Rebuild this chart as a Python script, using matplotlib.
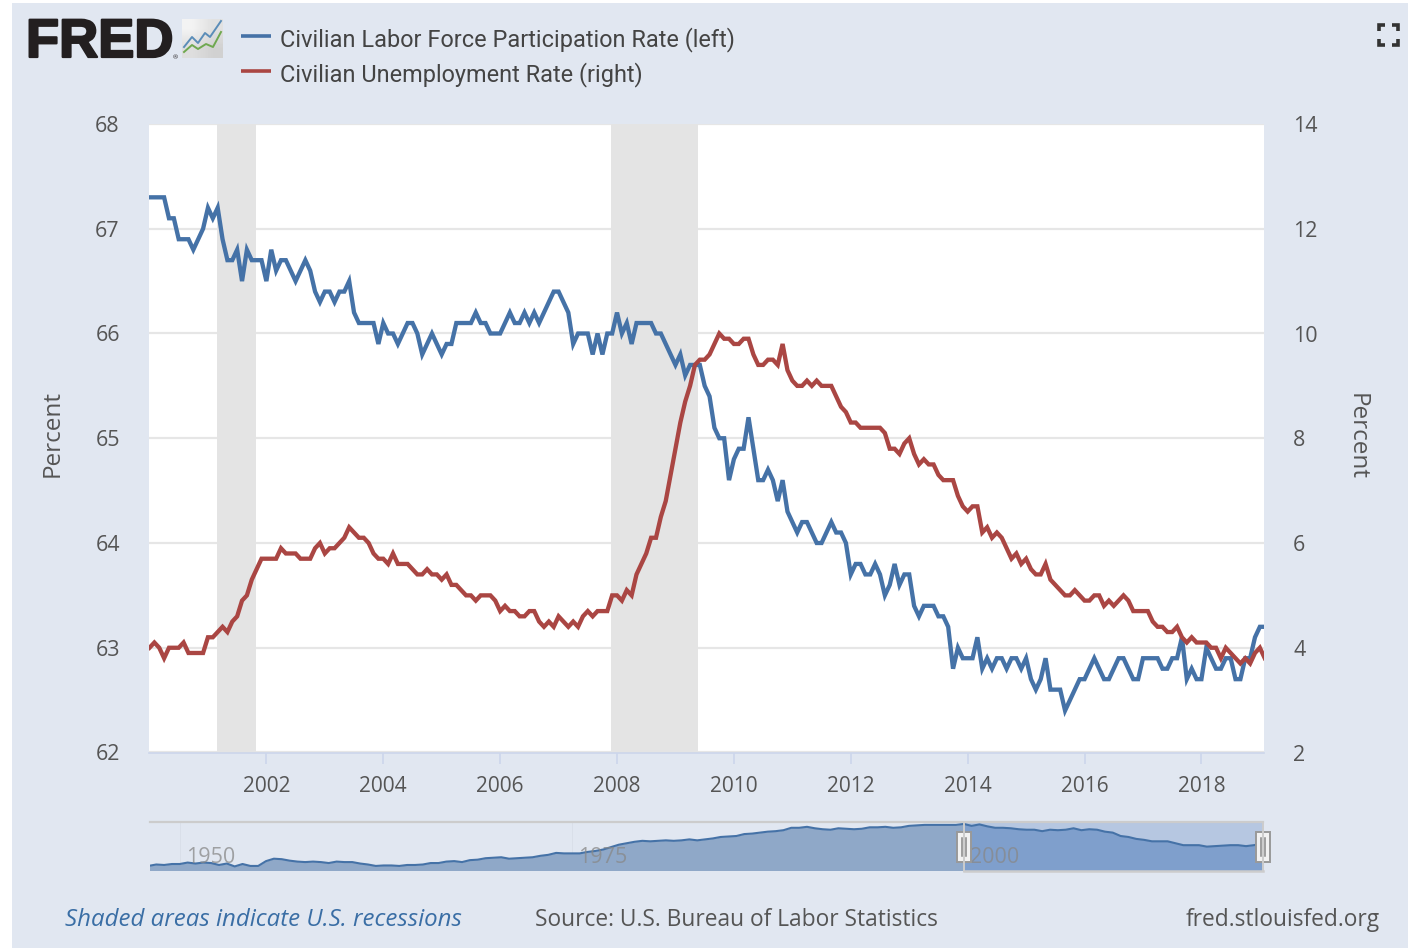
import numpy as np
from matplotlib import pyplot as plt
from matplotlib import patheffects
from matplotlib.patches import Rectangle

W, H = 1408, 950

# monthly values Jan 2000 - Feb 2019
lfpr = [67.3, 67.3, 67.3, 67.3, 67.1, 67.1, 66.9, 66.9, 66.9, 66.8, 66.9, 67.0,
        67.2, 67.1, 67.2, 66.9, 66.7, 66.7, 66.8, 66.5, 66.8, 66.7, 66.7, 66.7,
        66.5, 66.8, 66.6, 66.7, 66.7, 66.6, 66.5, 66.6, 66.7, 66.6, 66.4, 66.3,
        66.4, 66.4, 66.3, 66.4, 66.4, 66.5, 66.2, 66.1, 66.1, 66.1, 66.1, 65.9,
        66.1, 66.0, 66.0, 65.9, 66.0, 66.1, 66.1, 66.0, 65.8, 65.9, 66.0, 65.9,
        65.8, 65.9, 65.9, 66.1, 66.1, 66.1, 66.1, 66.2, 66.1, 66.1, 66.0, 66.0,
        66.0, 66.1, 66.2, 66.1, 66.1, 66.2, 66.1, 66.2, 66.1, 66.2, 66.3, 66.4,
        66.4, 66.3, 66.2, 65.9, 66.0, 66.0, 66.0, 65.8, 66.0, 65.8, 66.0, 66.0,
        66.2, 66.0, 66.1, 65.9, 66.1, 66.1, 66.1, 66.1, 66.0, 66.0, 65.9, 65.8,
        65.7, 65.8, 65.6, 65.7, 65.7, 65.7, 65.5, 65.4, 65.1, 65.0, 65.0, 64.6,
        64.8, 64.9, 64.9, 65.2, 64.9, 64.6, 64.6, 64.7, 64.6, 64.4, 64.6, 64.3,
        64.2, 64.1, 64.2, 64.2, 64.1, 64.0, 64.0, 64.1, 64.2, 64.1, 64.1, 64.0,
        63.7, 63.8, 63.8, 63.7, 63.7, 63.8, 63.7, 63.5, 63.6, 63.8, 63.6, 63.7,
        63.7, 63.4, 63.3, 63.4, 63.4, 63.4, 63.3, 63.3, 63.2, 62.8, 63.0, 62.9,
        62.9, 62.9, 63.1, 62.8, 62.9, 62.8, 62.9, 62.9, 62.8, 62.9, 62.9, 62.8,
        62.9, 62.7, 62.6, 62.7, 62.9, 62.6, 62.6, 62.6, 62.4, 62.5, 62.6, 62.7,
        62.7, 62.8, 62.9, 62.8, 62.7, 62.7, 62.8, 62.9, 62.9, 62.8, 62.7, 62.7,
        62.9, 62.9, 62.9, 62.9, 62.8, 62.8, 62.9, 62.9, 63.1, 62.7, 62.8, 62.7,
        62.7, 63.0, 62.9, 62.8, 62.8, 62.9, 62.9, 62.7, 62.7, 62.9, 62.9, 63.1,
        63.2, 63.2]

unrate = [4.0, 4.1, 4.0, 3.8, 4.0, 4.0, 4.0, 4.1, 3.9, 3.9, 3.9, 3.9,
          4.2, 4.2, 4.3, 4.4, 4.3, 4.5, 4.6, 4.9, 5.0, 5.3, 5.5, 5.7,
          5.7, 5.7, 5.7, 5.9, 5.8, 5.8, 5.8, 5.7, 5.7, 5.7, 5.9, 6.0,
          5.8, 5.9, 5.9, 6.0, 6.1, 6.3, 6.2, 6.1, 6.1, 6.0, 5.8, 5.7,
          5.7, 5.6, 5.8, 5.6, 5.6, 5.6, 5.5, 5.4, 5.4, 5.5, 5.4, 5.4,
          5.3, 5.4, 5.2, 5.2, 5.1, 5.0, 5.0, 4.9, 5.0, 5.0, 5.0, 4.9,
          4.7, 4.8, 4.7, 4.7, 4.6, 4.6, 4.7, 4.7, 4.5, 4.4, 4.5, 4.4,
          4.6, 4.5, 4.4, 4.5, 4.4, 4.6, 4.7, 4.6, 4.7, 4.7, 4.7, 5.0,
          5.0, 4.9, 5.1, 5.0, 5.4, 5.6, 5.8, 6.1, 6.1, 6.5, 6.8, 7.3,
          7.8, 8.3, 8.7, 9.0, 9.4, 9.5, 9.5, 9.6, 9.8, 10.0, 9.9, 9.9,
          9.8, 9.8, 9.9, 9.9, 9.6, 9.4, 9.4, 9.5, 9.5, 9.4, 9.8, 9.3,
          9.1, 9.0, 9.0, 9.1, 9.0, 9.1, 9.0, 9.0, 9.0, 8.8, 8.6, 8.5,
          8.3, 8.3, 8.2, 8.2, 8.2, 8.2, 8.2, 8.1, 7.8, 7.8, 7.7, 7.9,
          8.0, 7.7, 7.5, 7.6, 7.5, 7.5, 7.3, 7.2, 7.2, 7.2, 6.9, 6.7,
          6.6, 6.7, 6.7, 6.2, 6.3, 6.1, 6.2, 6.1, 5.9, 5.7, 5.8, 5.6,
          5.7, 5.5, 5.4, 5.4, 5.6, 5.3, 5.2, 5.1, 5.0, 5.0, 5.1, 5.0,
          4.9, 4.9, 5.0, 5.0, 4.8, 4.9, 4.8, 4.9, 5.0, 4.9, 4.7, 4.7,
          4.7, 4.7, 4.5, 4.4, 4.4, 4.3, 4.3, 4.4, 4.2, 4.1, 4.2, 4.1,
          4.1, 4.1, 4.0, 4.0, 3.8, 4.0, 3.9, 3.8, 3.7, 3.8, 3.7, 3.9,
          4.0, 3.8]

# navigator, half-yearly 1948 - 1999, the monthly series thinned out carries on after that
nav_lfpr = [58.6, 58.9, 58.8, 59.0, 59.0, 59.3, 59.1, 59.3, 59.2, 58.8, 59.1, 58.5,
            59.0, 58.6, 58.6, 59.6, 60.1, 60.0, 59.7, 59.5, 59.4, 59.5, 59.4, 59.2,
            59.5, 59.4, 59.4, 59.1, 58.9, 58.6, 58.7, 58.7, 58.6, 58.8, 58.8, 58.9,
            59.2, 59.2, 59.5, 59.6, 59.4, 59.8, 59.9, 60.2, 60.3, 60.4, 60.1, 60.2,
            60.3, 60.4, 60.7, 60.9, 61.3, 61.2, 61.2, 61.2, 61.5, 61.7, 62.0, 62.5,
            63.0, 63.3, 63.6, 63.8, 63.7, 63.8, 63.9, 63.8, 63.9, 64.1, 63.9, 64.1,
            64.3, 64.6, 64.7, 64.8, 65.2, 65.3, 65.5, 65.7, 65.8, 66.0, 66.5, 66.5,
            66.7, 66.4, 66.2, 66.1, 66.4, 66.3, 66.2, 66.3, 66.6, 66.6, 66.7, 66.5,
            66.6, 66.9, 67.0, 67.1, 67.1, 67.1, 67.1, 67.1]

recessions = [(2001.155, 2001.83), (2007.905, 2009.39)]
year_ticks = [2002, 2004, 2006, 2008, 2010, 2012, 2014, 2016, 2018]
left_ticks = [62, 63, 64, 65, 66, 67, 68]
right_ticks = [2, 4, 6, 8, 10, 12, 14]
nav_labels = [1950, 1975, 2000]

years = 2000 + np.arange(len(lfpr)) / 12
nav_years = np.concatenate([1948 + np.arange(len(nav_lfpr)) / 2, years[::6], years[-1:]])
nav_vals = np.array(nav_lfpr + lfpr[::6] + lfpr[-1:])

plt.rcParams['font.family'] = ['Open Sans', 'DejaVu Sans']
BLUE = '#4572A7'
RED = '#AA4643'
TXT = '#555555'
PANEL = '#E1E7F1'

def px_axes(x0, y0, x1, y1):
    return fig.add_axes([x0 / W, 1 - y1 / H, (x1 - x0) / W, (y1 - y0) / H])

fig = plt.figure(figsize=(W / 100, H / 100), dpi=100, facecolor='white')

# overlay in pixel coordinates for the page furniture
bg = fig.add_axes([0, 0, 1, 1], zorder=0)
bg.set_xlim(0, W)
bg.set_ylim(H, 0)
bg.axis('off')
bg.add_patch(Rectangle((12, 3), W - 12, 945, color=PANEL, lw=0))

top = fig.add_axes([0, 0, 1, 1], zorder=5)
top.patch.set_alpha(0)

# logo
logo = top.text(26, 43, 'FRED', fontsize=39, fontweight='bold', family=['Liberation Sans'],
                color='#231F20', va='center', ha='left')
logo.set_path_effects([patheffects.withStroke(linewidth=1.6, foreground='#231F20')])
top.text(175, 58, '®', fontsize=4.5, color='#231F20', va='center', ha='center')
top.imshow([[0.95, 0.88], [0.87, 0.82]], cmap='gray', vmin=0, vmax=1, extent=(182, 223, 58, 19),
           aspect='auto', interpolation='bilinear')
top.plot([184, 192, 198, 205, 210, 221], [47, 37, 43, 33, 37, 21], color='#5B8DB8', lw=1.4)
top.plot([184, 192, 198, 206, 213, 221], [52, 45, 49, 44, 47, 32], color='#6FA84F', lw=1.4)

# legend
top.plot([241, 271], [36, 36], color=BLUE, lw=2.6, solid_capstyle='butt')
top.plot([241, 271], [71, 71], color=RED, lw=2.6, solid_capstyle='butt')
top.text(280, 40, 'Civilian Labor Force Participation Rate (left)', fontsize=16.9,
         family=['Roboto'], color='#444444', va='center', ha='left')
top.text(280, 75, 'Civilian Unemployment Rate (right)', fontsize=16.9,
         family=['Roboto'], color='#444444', va='center', ha='left')

# fullscreen icon
for cx, cy, dx, dy in [(1379, 25, 1, 1), (1398, 25, -1, 1), (1379, 45, 1, -1), (1398, 45, -1, -1)]:
    top.plot([cx + 6 * dx, cx, cx], [cy, cy, cy + 6 * dy], color='#333333', lw=2.6,
             solid_joinstyle='miter', solid_capstyle='butt')

# main chart
ax = px_axes(149, 124, 1264, 752.5)
ax.set_zorder(2)
ax.set_facecolor('white')
ax.set_xlim(2000 - 0.5 / 58.44, 2000 + 1114.5 / 58.44)
ax.set_ylim(62, 68)
ax.set_yticks(left_ticks)
ax.set_xticks(year_ticks)
ax.grid(axis='y', color='#E6E6E6', lw=1.6)
ax.set_axisbelow(True)
for s in ['top', 'left', 'right']:
    ax.spines[s].set_visible(False)
ax.spines['bottom'].set_color('#CCD6EB')
ax.spines['bottom'].set_linewidth(1.2)
ax.tick_params(axis='x', color='#CCD6EB', length=8, width=1.2, labelsize=15,
               labelcolor=TXT, pad=9)
ax.tick_params(axis='y', length=0, labelsize=15.5, labelcolor=TXT, pad=21)
ax.set_ylabel('Percent', fontsize=17.5, color=TXT, labelpad=0)
ax.yaxis.set_label_coords((65 - 149) / 1115, 0.508)
for a, b in recessions:
    ax.axvspan(a, b, color='#E4E4E4', lw=0, zorder=1)
ax.plot(years, lfpr, color=BLUE, lw=3.1, zorder=3, solid_joinstyle='miter')

ax2 = ax.twinx()
ax2.set_ylim(2, 14)
ax2.set_yticks(right_ticks)
for s in ax2.spines.values():
    s.set_visible(False)
ax2.tick_params(axis='y', length=0, labelsize=15.5, labelcolor=TXT, pad=21)
ax2.set_ylabel('Percent', fontsize=17.5, color=TXT, rotation=270)
ax2.yaxis.set_label_coords((1369 - 149) / 1115, 0.502)
ax2.plot(years, unrate, color=RED, lw=3.1, zorder=3, solid_joinstyle='miter')

# navigator
nav = px_axes(150, 822, 1263, 870)
nav.set_zorder(3)
nav.patch.set_alpha(0)
nav.set_xlim(1948.1, 1948.1 + 1113 / 15.68)
nav.set_ylim(57.76, 67.7)
nav.set_xticks([])
nav.set_yticks([])
for s in ['left', 'right', 'bottom']:
    nav.spines[s].set_visible(False)
nav.spines['top'].set_color('#CCCCCC')
nav.spines['top'].set_linewidth(1.6)
nav.axvspan(2000, 2100, color='#B6C7E1', lw=0, zorder=1)
old = nav_years <= 2000
nav.fill_between(nav_years[old], nav_vals[old], 50, color='#8FA8C8', lw=0, zorder=2)
nav.fill_between(nav_years[nav_years >= 2000], nav_vals[nav_years >= 2000], 50, color='#7F9FCC', lw=0, zorder=2)
nav.plot(nav_years, nav_vals, color=BLUE, lw=1.5, zorder=3)
for y in nav_labels:
    nav.axvline(y, color='#D8DEE8', lw=0.6, zorder=1.5)
    nav.text(y + 0.4, 60.3, str(y), fontsize=15.5, color='#888888', alpha=0.75, zorder=4,
             va='center', ha='left')

# selection frame and handles
top.plot([964, 964, 1263, 1263], [870.5, 822, 822, 870.5], color='#CCCCCC', lw=1.4)
top.plot([964, 1263], [871, 871], color='#CCCCCC', lw=1.8)
for hx in [964, 1263]:
    top.add_patch(Rectangle((hx - 7, 832), 14, 30, facecolor='#F2F2F2', edgecolor='#999999', lw=1.4))
    top.plot([hx - 2, hx - 2], [838, 856], color='#888888', lw=1.1)
    top.plot([hx + 2, hx + 2], [838, 856], color='#888888', lw=1.1)

# footer
top.text(65, 920, 'Shaded areas indicate U.S. recessions', fontsize=17.3, style='italic',
         color='#3A6EA5', va='center', ha='left')
top.text(535, 920, 'Source: U.S. Bureau of Labor Statistics', fontsize=16.35,
         color='#555555', va='center', ha='left')
top.text(1380, 920, 'fred.stlouisfed.org', fontsize=16.4, color='#555555', va='center', ha='right')

top.set_xlim(0, W)
top.set_ylim(H, 0)
top.axis('off')

fig.savefig('out.png', dpi=100, facecolor='white')
